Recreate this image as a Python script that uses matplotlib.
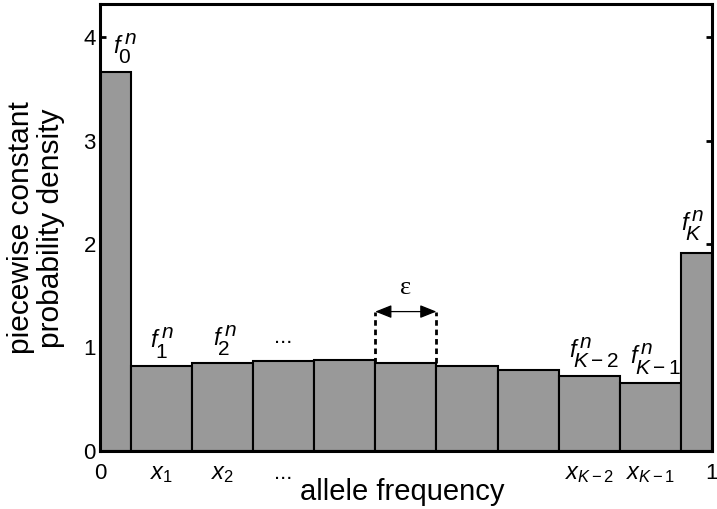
import numpy as np
import matplotlib.pyplot as plt

plt.rcParams["font.family"] = ["Liberation Sans", "DejaVu Sans"]
plt.rcParams["mathtext.fontset"] = "custom"
plt.rcParams["mathtext.rm"] = "Liberation Sans"
plt.rcParams["mathtext.it"] = "Liberation Sans:italic"

# dados
bin_edges = [0.0, 0.05, 0.15, 0.25, 0.35, 0.45, 0.55, 0.65, 0.75, 0.85, 0.95, 1.0]
densidades = [3.665, 0.82, 0.845, 0.87, 0.875, 0.85, 0.82, 0.78, 0.722, 0.651, 1.91]

xtick_pos = [0.0, 0.1, 0.2, 0.3, 0.8, 0.9, 1.0]
xtick_labels = ["0", "$x_1$", "$x_2$", "...", "$x_{K-2}$", "$x_{K-1}$", "1"]

# rótulos f_i^n: índice, posição x (início do índice) e linha de base do "f"
indices_f = ["0", "1", "2", "$K-2$", "$K-1$", "$K$"]
rotulos_x = [0.0295, 0.09, 0.193, 0.774, 0.874, 0.957]
rotulos_y = [3.85, 1.0, 1.022, 0.906, 0.845, 2.135]
reticencias_xy = (0.3, 1.04)

eps_esq, eps_dir = bin_edges[5], bin_edges[6]
eps_topo_barra = densidades[5]
eps_seta_y = 1.345


def rotulo_f(ax, x, y, indice):
    """Escreve f com índice e expoente n em tamanhos próximos (como no original)."""
    ax.annotate("f", (x, y), xytext=(1.5, 0), textcoords="offset points",
                ha="right", va="baseline", fontsize=17, style="italic")
    ax.annotate(indice, (x, y), xytext=(0, -7.5), textcoords="offset points",
                ha="left", va="baseline", fontsize=15)
    ax.annotate("n", (x, y), xytext=(4.5, 6.5), textcoords="offset points",
                ha="left", va="baseline", fontsize=15, style="italic")


fig = plt.figure(figsize=(7.17, 5.09), dpi=100)
ax = fig.add_axes([0.1395, 0.1147, 0.853, 0.8773])

larguras = np.diff(bin_edges)
ax.bar(bin_edges[:-1], densidades, width=larguras, align="edge",
       color="#999999", edgecolor="black", linewidth=1.5, zorder=2)

for indice, x, y in zip(indices_f, rotulos_x, rotulos_y):
    rotulo_f(ax, x, y, indice)
ax.text(*reticencias_xy, "...", ha="center", va="baseline", fontsize=16)

# anotação do epsilon
for xe in (eps_esq, eps_dir):
    ax.plot([xe, xe], [eps_topo_barra, eps_seta_y], color="black", lw=2,
            ls=(0, (2, 1.4)), zorder=3)
ax.annotate("", xy=(eps_esq, eps_seta_y), xytext=(eps_dir, eps_seta_y),
            arrowprops=dict(arrowstyle="<|-|>,head_length=1.0,head_width=0.4",
                            mutation_scale=10, color="black", lw=0.9,
                            shrinkA=0, shrinkB=0))
ax.text((eps_esq + eps_dir) / 2, eps_seta_y + 0.12, "ε", ha="center", va="bottom",
        fontsize=19, family="Liberation Serif")

ax.set_xlim(0, 1)
ax.set_ylim(0, 4.32)
ax.set_yticks([0, 1, 2, 3, 4])
ax.set_xticks(xtick_pos)
ax.set_xticklabels(xtick_labels)
ax.tick_params(axis="y", direction="in", left=True, right=True, length=4, width=2,
               labelsize=16, pad=3)
ax.tick_params(axis="x", length=0, labelsize=16, pad=9)
for lbl in ax.get_xticklabels():
    if lbl.get_text().startswith("$"):
        lbl.set_fontsize(17)

for sp in ax.spines.values():
    sp.set_linewidth(2.2)
    sp.set_zorder(4)

fig.text(402 / 717, 1 - 500 / 509, "allele frequency", ha="center", va="baseline",
         fontsize=21)
fig.text(36 / 717, 1 - 228 / 509, "piecewise constant\nprobability density",
         ha="center", va="center", rotation=90, fontsize=21.5, linespacing=1.05)

fig.savefig("out.png", dpi=100)
